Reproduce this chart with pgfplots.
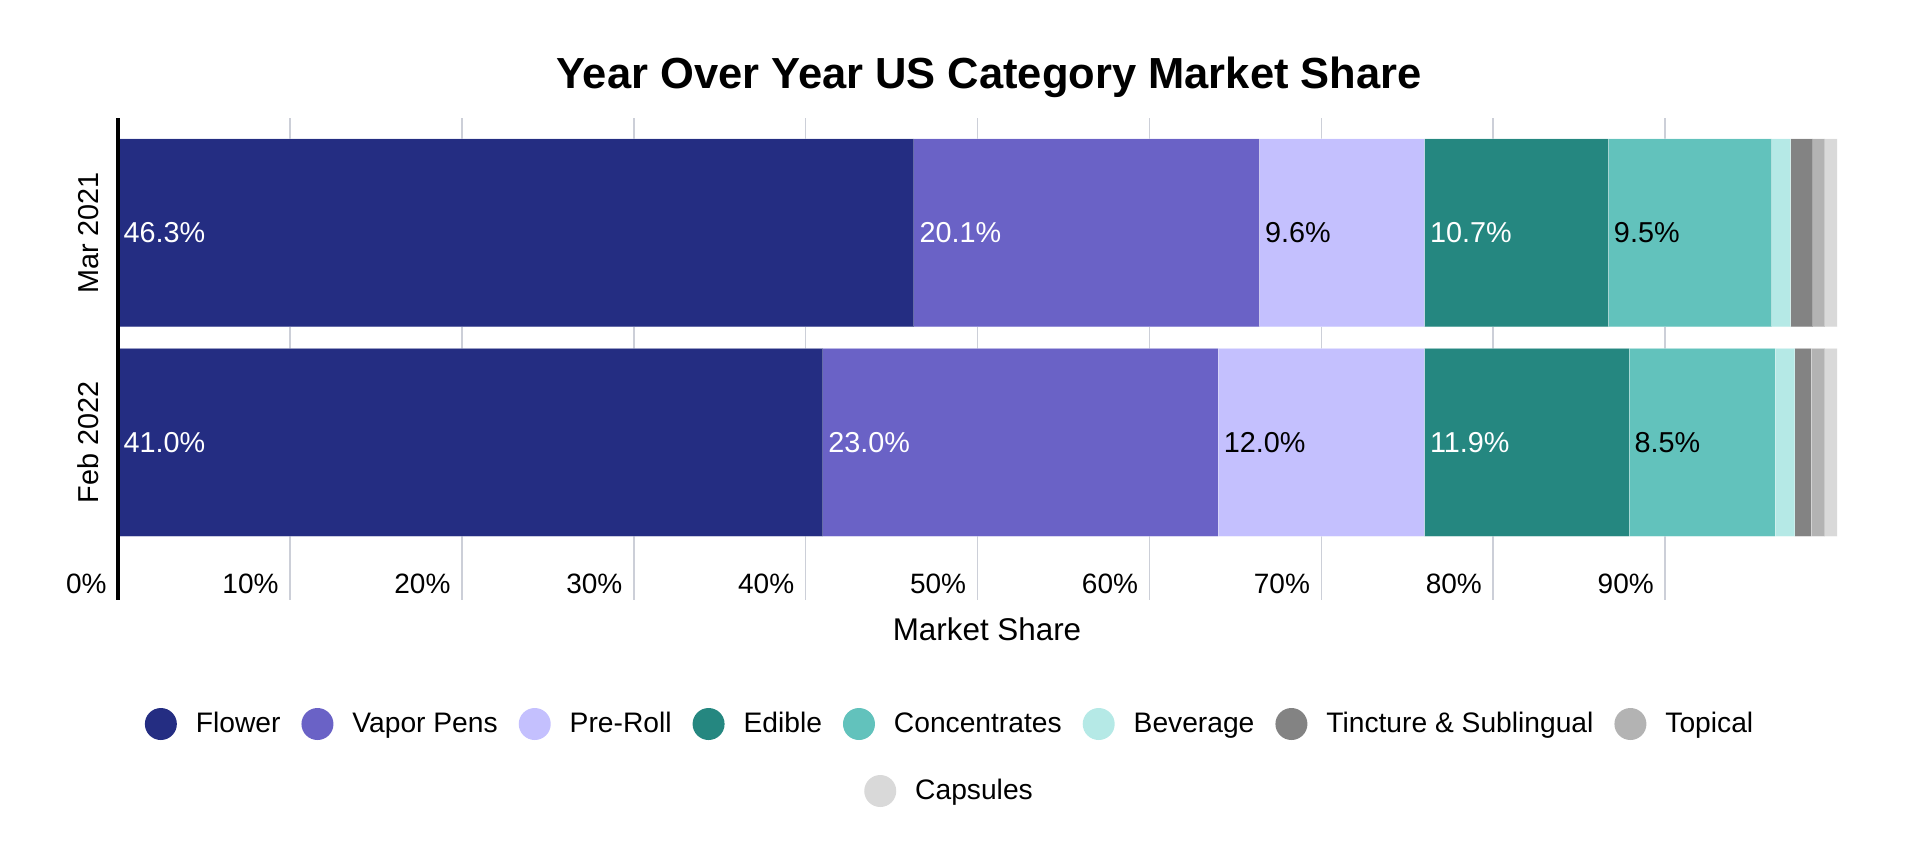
\documentclass[border=0pt]{standalone}
\usepackage{pgfplots}
\pgfplotsset{compat=1.18}
\usepackage{fontspec}
\setmainfont{Liberation Sans}

\definecolor{cFlower}{RGB}{36,45,130}
\definecolor{cVapor}{RGB}{106,98,198}
\definecolor{cPre}{RGB}{196,192,254}
\definecolor{cEdible}{RGB}{37,135,128}
\definecolor{cConc}{RGB}{98,194,188}
\definecolor{cBev}{RGB}{181,233,230}
\definecolor{cTinc}{RGB}{131,131,131}
\definecolor{cTop}{RGB}{179,179,179}
\definecolor{cCap}{RGB}{217,217,217}
\definecolor{cGrid}{RGB}{204,207,216}

\pgfplotsset{
  common/.style={
    at={(59pt,133.5pt)}, anchor=south west,
    scale only axis, width=859.5pt, height=241pt,
    xmin=0, xmax=100, ymin=-0.752, ymax=1.549,
  },
  circleg/.style={legend image code/.code={\fill[##1, draw=none] (8pt,0pt) circle (8pt); \path[draw=none, fill=none] (0pt,0pt) -- (23.5pt,0pt);}},
  lbl/.style={forget plot, draw=none, mark=none, nodes near coords, point meta=explicit symbolic,
    every node near coord/.append style={anchor=west, inner xsep=2.6pt, inner ysep=0pt, text=#1, font=\fontsize{14.4}{17}\selectfont}},
}

\begin{document}
\begin{tikzpicture}
\path[use as bounding box] (0,0) rectangle (960pt,433.5pt);

% main bars
\begin{axis}[common,
  xbar stacked, bar width=94pt,
  axis line style={draw=none},
  tick style={draw=none},
  xmajorgrids, grid style={cGrid, line width=0.8pt},
  xtick={0,10,...,90},
  xticklabels={0\%,10\%,20\%,30\%,40\%,50\%,60\%,70\%,80\%,90\%},
  xticklabel style={anchor=base east, inner xsep=5.5pt, yshift=3.35pt, font=\fontsize{14}{16}\selectfont},
  ytick={0,1}, yticklabels={Feb 2022,Mar 2021},
  yticklabel style={rotate=90, anchor=south, inner xsep=0pt, inner ysep=9.5pt, font=\fontsize{14.4}{17}\selectfont},
  title={Year Over Year US Category Market Share},
  title style={at={(0.5,1)}, anchor=base, yshift=8.5pt, xshift=5.75pt, font=\fontsize{21.75}{26}\selectfont\bfseries},
  xlabel={Market Share},
  xlabel style={at={(axis description cs:0.5,0)}, anchor=base, yshift=-20pt, xshift=4.75pt, font=\fontsize{15.7}{19}\selectfont},
  every axis plot/.append style={draw=white, draw opacity=0.3, line width=0.5pt},
]
\addplot[fill=cFlower] coordinates {(41.0,0) (46.3,1)};
\addplot[fill=cVapor]  coordinates {(23.0,0) (20.1,1)};
\addplot[fill=cPre]    coordinates {(12.0,0) (9.6,1)};
\addplot[fill=cEdible] coordinates {(11.9,0) (10.7,1)};
\addplot[fill=cConc]   coordinates {(8.5,0) (9.5,1)};
\addplot[fill=cBev]    coordinates {(1.15,0) (1.1,1)};
\addplot[fill=cTinc]   coordinates {(0.95,0) (1.3,1)};
\addplot[fill=cTop]    coordinates {(0.8,0) (0.7,1)};
\addplot[fill=cCap]    coordinates {(0.7,0) (0.7,1)};
\end{axis}

% overlay: left axis line, value labels, legend row 1
\begin{axis}[common,
  axis lines=left,
  x axis line style={draw=none},
  y axis line style={-, black, line width=1.6pt},
  ticks=none,
  circleg,
  legend columns=8,
  legend style={at={(0.4846,-0.2573)}, anchor=center, draw=none, fill=none,
    font=\fontsize{14.1}{17}\selectfont,
    /tikz/every even column/.append style={column sep=8.5pt}},
]
\addlegendimage{fill=cFlower}\addlegendentry{Flower}
\addlegendimage{fill=cVapor}\addlegendentry{Vapor Pens}
\addlegendimage{fill=cPre}\addlegendentry{Pre-Roll}
\addlegendimage{fill=cEdible}\addlegendentry{Edible}
\addlegendimage{fill=cConc}\addlegendentry{Concentrates}
\addlegendimage{fill=cBev}\addlegendentry{Beverage}
\addlegendimage{fill=cTinc}\addlegendentry{Tincture \& Sublingual}
\addlegendimage{fill=cTop}\addlegendentry{Topical}
\addplot[lbl=white] coordinates {(0,1) [46.3\%] (0,0) [41.0\%]};
\addplot[lbl=white] coordinates {(46.3,1) [20.1\%] (41.0,0) [23.0\%]};
\addplot[lbl=black] coordinates {(66.4,1) [9.6\%] (64.0,0) [12.0\%]};
\addplot[lbl=white] coordinates {(76.0,1) [10.7\%] (76.0,0) [11.9\%]};
\addplot[lbl=black] coordinates {(86.7,1) [9.5\%] (87.9,0) [8.5\%]};
\end{axis}

% legend row 2
\begin{axis}[common, hide axis, circleg,
  legend style={at={(0.4843,-0.3963)}, anchor=center, draw=none, fill=none,
    font=\fontsize{14.1}{17}\selectfont},
]
\addlegendimage{fill=cCap}\addlegendentry{Capsules}
\end{axis}
\end{tikzpicture}
\end{document}
